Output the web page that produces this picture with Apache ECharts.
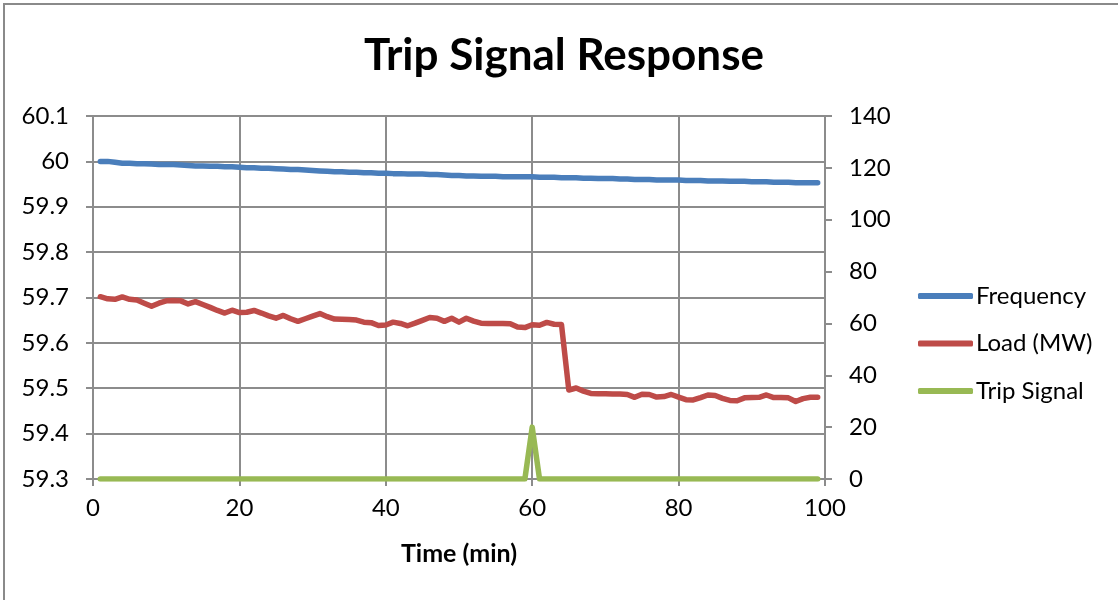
<!DOCTYPE html>
<html>
<head>
<meta charset="utf-8">
<script src="https://cdn.jsdelivr.net/npm/echarts@6/dist/echarts.min.js"></script>
<style>html,body{margin:0;padding:0;background:#fff;}#c{width:1118px;height:600px;}</style>
</head>
<body>
<div id="c"></div>
<script>
var minutes = [];
for (var i = 1; i <= 99; i++) minutes.push(i);

var frequency = [
60.000,60.000,59.998,59.996,59.996,59.995,59.995,59.994,59.993,59.993,
59.993,59.992,59.991,59.990,59.990,59.989,59.989,59.988,59.988,59.987,
59.986,59.986,59.985,59.985,59.984,59.983,59.982,59.982,59.981,59.980,
59.979,59.978,59.977,59.977,59.976,59.976,59.975,59.975,59.974,59.974,
59.973,59.973,59.972,59.972,59.972,59.971,59.971,59.970,59.969,59.969,
59.968,59.968,59.967,59.967,59.967,59.966,59.966,59.966,59.966,59.966,
59.965,59.965,59.965,59.964,59.964,59.964,59.963,59.963,59.962,59.962,
59.962,59.961,59.961,59.960,59.960,59.960,59.959,59.959,59.959,59.959,
59.958,59.958,59.958,59.957,59.957,59.957,59.956,59.956,59.956,59.955,
59.955,59.955,59.954,59.954,59.954,59.953,59.953,59.953,59.953];

var loadMW = [
70.3,69.5,69.3,70.2,69.3,69.0,67.8,66.6,67.8,68.7,
68.8,68.7,67.5,68.4,67.3,66.2,65.0,64.0,65.1,64.2,
64.3,65.0,64.0,62.9,62.0,63.1,61.8,60.8,61.8,62.8,
63.8,62.6,61.7,61.6,61.5,61.3,60.5,60.3,59.2,59.4,
60.5,60.0,59.1,60.1,61.2,62.3,62.0,60.8,62.0,60.5,
62.0,60.9,60.1,60.0,60.0,60.0,59.9,58.6,58.4,59.5,
59.3,60.4,59.7,59.6,34.3,35.1,33.9,33.0,32.9,32.9,
32.8,32.8,32.6,31.5,32.7,32.6,31.6,31.8,32.6,31.6,
30.6,30.5,31.4,32.4,32.2,31.1,30.3,30.2,31.3,31.4,
31.5,32.4,31.4,31.4,31.3,29.9,31.0,31.5,31.5];

var tripSignal = [];
for (var j = 1; j <= 99; j++) tripSignal.push(j === 60 ? 20 : 0);

var xTicks = [0, 20, 40, 60, 80, 100];
var leftTicks = [59.3, 60.1, 0.1];
var rightTicks = [0, 140, 20];

function pairs(xs, ys) { return xs.map(function (x, k) { return [x, ys[k]]; }); }

var FONT = 'Lato, "Open Sans", sans-serif';
var GRID = '#8c8c8c';
var LW = 5.5;
var chart = echarts.init(document.getElementById('c'), null, {renderer: 'canvas'});
chart.setOption({
  backgroundColor: '#fff',
  animation: false,
  graphic: [{type: 'rect', shape: {x: 4, y: 4, width: 1300, height: 800}, style: {fill: 'none', stroke: '#8a8a8a', lineWidth: 2}, z: 100}],
  title: {text: 'Trip Signal Response', left: 559, top: 29, textAlign: 'center',
    textStyle: {fontFamily: FONT, fontSize: 44, fontWeight: 'bold', color: '#000'}},
  legend: {
    orient: 'vertical', left: 918, top: 284, itemWidth: 55, itemHeight: 6, itemGap: 23.5, padding: 0,
    icon: 'roundRect',
    textStyle: {fontFamily: FONT, fontSize: 24, color: '#000', padding: [0, 0, 0, -2]},
    data: ['Frequency', 'Load (MW)', 'Trip Signal']
  },
  grid: {left: 93, right: 293, top: 116, bottom: 121, containLabel: false},
  xAxis: {
    type: 'value', min: xTicks[0], max: xTicks[xTicks.length - 1], interval: 20,
    name: 'Time (min)', nameLocation: 'middle', nameGap: 62,
    nameTextStyle: {fontFamily: FONT, fontSize: 25, fontWeight: 'bold', color: '#000'},
    axisLine: {show: true, onZero: false, lineStyle: {color: GRID, width: 2}},
    axisTick: {show: true, length: 7, lineStyle: {color: GRID, width: 2}},
    axisLabel: {fontFamily: FONT, fontSize: 24, color: '#000', margin: 17},
    splitLine: {show: true, lineStyle: {color: GRID, width: 2}}
  },
  yAxis: [{
    type: 'value', min: leftTicks[0], max: leftTicks[1], interval: leftTicks[2], position: 'left',
    axisLine: {show: true, lineStyle: {color: GRID, width: 2}},
    axisTick: {show: true, length: 7, lineStyle: {color: GRID, width: 2}},
    axisLabel: {fontFamily: FONT, fontSize: 24, color: '#000', margin: 24,
      formatter: function (v) { return String(+v.toFixed(1)); }},
    splitLine: {show: true, lineStyle: {color: GRID, width: 2}}
  }, {
    type: 'value', min: rightTicks[0], max: rightTicks[1], interval: rightTicks[2], position: 'right',
    axisLine: {show: true, lineStyle: {color: GRID, width: 2}},
    axisTick: {show: true, length: 7, lineStyle: {color: GRID, width: 2}},
    axisLabel: {fontFamily: FONT, fontSize: 24, color: '#000', margin: 24},
    splitLine: {show: false}
  }],
  series: [
    {name: 'Frequency', type: 'line', yAxisIndex: 0, data: pairs(minutes, frequency), showSymbol: false,
      color: '#4a7ebb', lineStyle: {width: LW, color: '#4a7ebb', cap: 'round', join: 'round'}, z: 5},
    {name: 'Load (MW)', type: 'line', yAxisIndex: 1, data: pairs(minutes, loadMW), showSymbol: false,
      color: '#be4b48', lineStyle: {width: LW, color: '#be4b48', cap: 'round', join: 'round'}, z: 4},
    {name: 'Trip Signal', type: 'line', yAxisIndex: 1, data: pairs(minutes, tripSignal), showSymbol: false,
      color: '#98b954', lineStyle: {width: LW, color: '#98b954', cap: 'round', join: 'round'}, z: 3}
  ]
});
</script>
</body>
</html>
